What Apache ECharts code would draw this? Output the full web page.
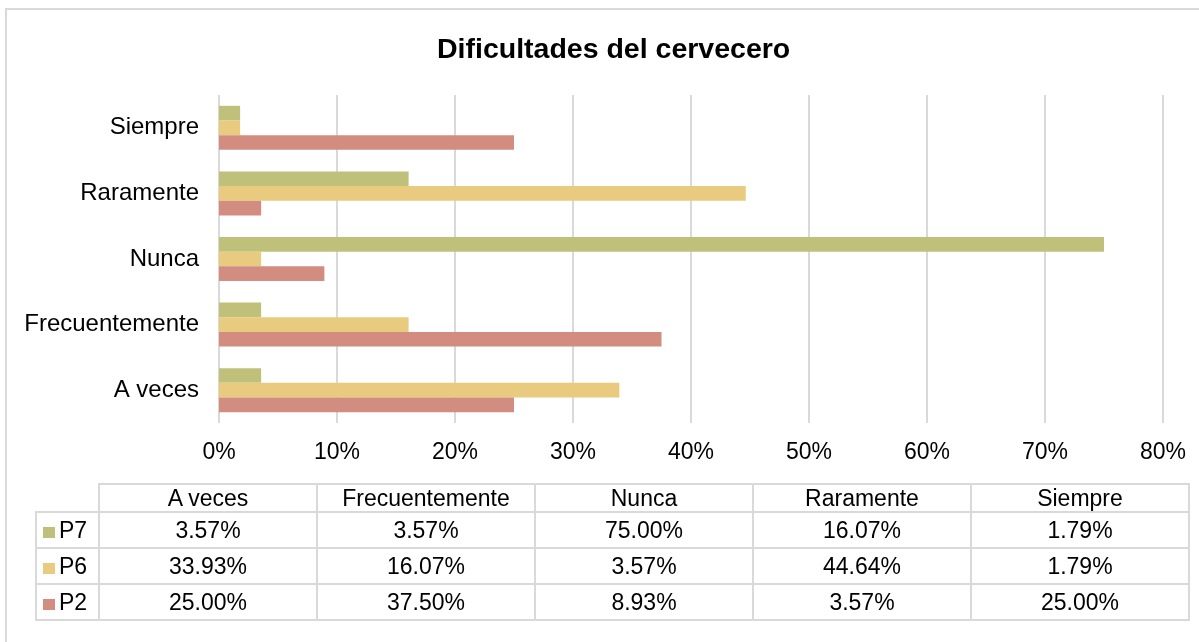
<!DOCTYPE html>
<html>
<head>
<meta charset="utf-8">
<script src="https://cdn.jsdelivr.net/npm/echarts@6/dist/echarts.min.js"></script>
<style>
  body { margin: 0; overflow: hidden; background: #fff; font-family: "Liberation Sans", Arial, sans-serif; }
  .frame { position: absolute; left: 5px; top: 8px; width: 1300px; height: 700px; border: 2px solid #d9d9d9; }
  #chart { position: absolute; left: 0; top: 0; width: 1199px; height: 642px; }
  .data-table { position: absolute; left: 35px; top: 483px; border-collapse: collapse; font-size: 23px; color: #000; }
  .data-table td { border: 2px solid #d9d9d9; text-align: center; padding: 0; height: 34px; width: 216px; line-height: 26px; }
  .data-table tr.head td { height: 25px; }
  .data-table td.corner { border: none; width: 61px; }
  .data-table td.key { text-align: left; width: 61px; white-space: nowrap; }
  .swatch { display: inline-block; width: 12px; height: 11px; margin: 0 4px 0 6px; }
</style>
</head>
<body>
<div class="frame"></div>
<div id="chart"></div>
<table class="data-table" id="tbl"></table>
<script>
var categories = ["A veces", "Frecuentemente", "Nunca", "Raramente", "Siempre"];
var p7 = [3.57, 3.57, 75.00, 16.07, 1.79];
var p6 = [33.93, 16.07, 3.57, 44.64, 1.79];
var p2 = [25.00, 37.50, 8.93, 3.57, 25.00];
var xTicks = [0, 10, 20, 30, 40, 50, 60, 70, 80];

var colors = { P7: "#bfc07a", P6: "#e8cb7e", P2: "#d28c80" };
var rows = [["P7", p7], ["P6", p6], ["P2", p2]];

var chart = echarts.init(document.getElementById("chart"));

var font = '"Liberation Sans", Arial, sans-serif';

chart.setOption({
  animation: false,
  title: {
    text: "Dificultades del cervecero",
    left: 432,
    top: 31,
    textStyle: { fontSize: 28.5, fontWeight: "bold", color: "#000", fontFamily: font }
  },
  grid: { left: 219, right: 36, top: 95, bottom: 219, containLabel: false },
  xAxis: {
    type: "value",
    min: xTicks[0],
    max: xTicks[xTicks.length - 1],
    interval: 10,
    axisLine: { show: false },
    axisTick: { show: false },
    splitLine: { lineStyle: { color: "#d9d9d9", width: 2 } },
    axisLabel: {
      formatter: "{value}%",
      fontSize: 23,
      color: "#000",
      fontFamily: font,
      margin: 18
    }
  },
  yAxis: {
    type: "category",
    data: categories,
    axisLine: { show: false },
    axisTick: { show: false },
    axisLabel: { fontSize: 24, color: "#000", fontFamily: font, margin: 20 }
  },
  series: rows.map(function (r) {
    return {
      name: r[0],
      type: "bar",
      data: r[1],
      barGap: "0%",
      barCategoryGap: "33%",
      itemStyle: { color: colors[r[0]] }
    };
  })
});

// data table under the chart
var tbl = document.getElementById("tbl");
var html = '<tr class="head"><td class="corner"></td>';
categories.forEach(function (c) { html += "<td>" + c + "</td>"; });
html += "</tr>";
rows.forEach(function (r) {
  html += '<tr><td class="key"><span class="swatch" style="background:' + colors[r[0]] + '"></span>' + r[0] + "</td>";
  r[1].forEach(function (v) { html += "<td>" + v.toFixed(2) + "%</td>"; });
  html += "</tr>";
});
tbl.innerHTML = html;
</script>
</body>
</html>
